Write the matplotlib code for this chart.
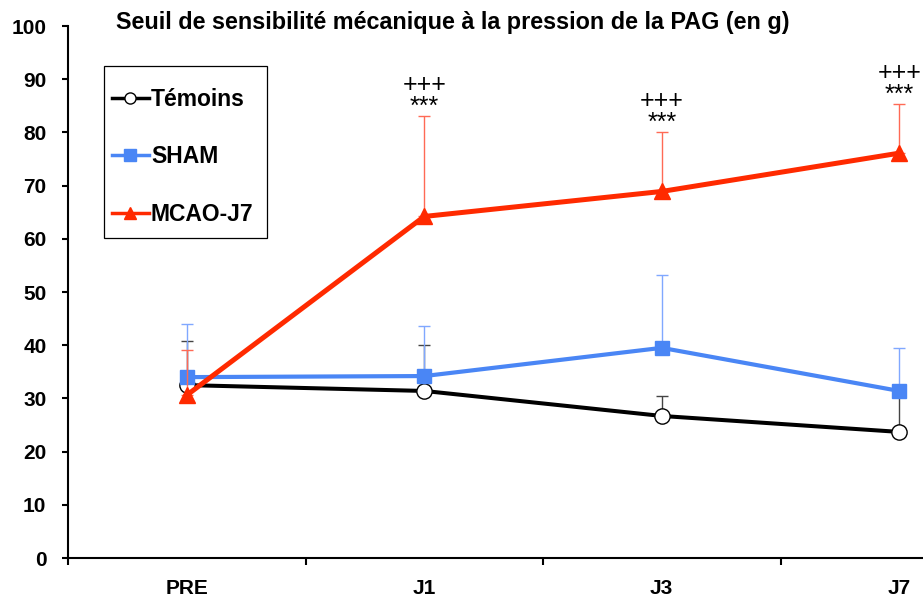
import matplotlib
matplotlib.use("Agg")
import matplotlib.pyplot as plt
from matplotlib.lines import Line2D
from matplotlib.patches import Rectangle
import numpy as np

plt.rcParams['font.family'] = ['Liberation Sans', 'DejaVu Sans']

categories = ["PRE", "J1", "J3", "J7"]
temoins = [32.5, 31.4, 26.7, 23.7]
temoins_err = [8.3, 8.6, 3.8, 7.6]
sham = [34.0, 34.2, 39.5, 31.4]
sham_err = [10.0, 9.5, 13.7, 8.1]
mcao = [30.6, 64.2, 68.9, 76.1]
mcao_err = [8.5, 18.9, 11.2, 9.2]
sig_plus = ["", "+++", "+++", "+++"]
sig_star = ["", "***", "***", "***"]
yticks = list(range(0, 101, 10))

W, H = 923, 599
fig = plt.figure(figsize=(W / 100, H / 100), dpi=100)
ax = fig.add_axes([68 / W, 1 - 558 / H, 1 - 68 / W, (558 - 26) / H])

x = np.arange(len(categories))

series = [
    (temoins, temoins_err, "Témoins", "black", "#444444", "o", "white", 11, 2.9, 3),
    (sham, sham_err, "SHAM", "#4A86F5", "#80A8FF", "s", "#4A86F5", 10, 3.0, 4),
    (mcao, mcao_err, "MCAO-J7", "#FF2A00", "#FF6A55", "^", "#FF2A00", 11, 3.6, 5),
]
for vals, errs, lab, col, ecol, mk, mfc, ms, lw, z in series:
    ax.errorbar(x, vals, yerr=[np.zeros(len(errs)), errs], fmt="none",
                ecolor=ecol, elinewidth=1.0, capsize=4, capthick=1.0, zorder=z - 0.5)
    ax.plot(x, vals, color=col, lw=lw, marker=mk, ms=ms, mfc=mfc, mec=col,
            mew=1.0, zorder=z, clip_on=False)

tops = [max(m + e, 0) for m, e in zip(mcao, mcao_err)]
for i in range(len(categories)):
    if sig_star[i]:
        ax.annotate(sig_star[i], xy=(x[i], tops[i]), xytext=(0, 1.5),
                    textcoords="offset points", ha="center", va="baseline",
                    fontsize=18, annotation_clip=False)
        ax.annotate(sig_plus[i], xy=(x[i], tops[i]), xytext=(0, 17.5),
                    textcoords="offset points", ha="center", va="baseline",
                    fontsize=18, annotation_clip=False)

ax.spines["top"].set_visible(False)
ax.spines["right"].set_visible(False)
for s in ["left", "bottom"]:
    ax.spines[s].set_linewidth(1.5)

ax.set_yticks(yticks)
ax.set_yticklabels([str(v) for v in yticks], fontsize=15, fontweight="bold")
ax.tick_params(axis="y", direction="out", length=4.5, width=1.5, pad=11)

ax.set_xticks(x)
ax.set_xticklabels(categories, fontsize=15, fontweight="bold")
ax.set_xticks(np.arange(-0.5, 3.6, 1.0), minor=True)
ax.tick_params(axis="x", which="major", length=0, pad=15)
ax.tick_params(axis="x", which="minor", direction="out", length=5, width=1.5)

ax.set_xlim(-0.5, 3.10)
ax.set_ylim(0, 100)

fig.text(453 / W, 1 - 22 / H, "Seuil de sensibilité mécanique à la pression de la PAG (en g)",
         ha="center", va="center", fontsize=16.8, fontweight="bold")

# legend frame
fig.patches.append(Rectangle((104 / W, 1 - 238 / H), 163 / W, 172 / H,
                             transform=fig.transFigure, fill=False,
                             edgecolor="black", lw=0.9))
handles = [
    Line2D([], [], color="black", lw=2.5, marker="o", ms=8, mfc="white", mec="black"),
    Line2D([], [], color="#4A86F5", lw=2.5, marker="s", ms=8, mfc="#4A86F5", mec="#4A86F5"),
    Line2D([], [], color="#FF2A00", lw=2.5, marker="^", ms=8, mfc="#FF2A00", mec="#FF2A00"),
]
fig.legend(handles, ["Témoins", "SHAM", "MCAO-J7"], loc="upper left",
           bbox_to_anchor=(112 / W, 1 - 88 / H), frameon=False,
           prop={"size": 16.5, "weight": "bold"}, borderpad=0, borderaxespad=0,
           handlelength=1.6, handletextpad=0.1, labelspacing=1.5)

fig.savefig("out.png", dpi=100)
